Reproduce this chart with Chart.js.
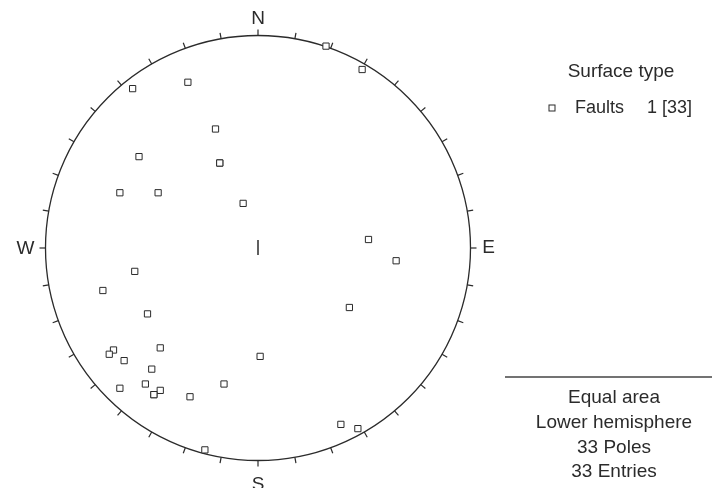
<!DOCTYPE html>
<html>
<head>
<meta charset="utf-8">
<script src="https://cdn.jsdelivr.net/npm/chart.js@4/dist/chart.umd.min.js"></script>
<style>
  html, body { margin: 0; padding: 0; background: #fff; }
  #wrap { width: 712px; height: 488px; }
</style>
</head>
<body>
<div id="wrap"><canvas id="net" width="712" height="488"></canvas></div>
<script>
// Poles to fault planes, equal-area projection (unit = net radius, +x east, +y north)
const poleX = [0.32, 0.49, -0.59, -0.33, -0.20, -0.56, -0.18, -0.65, -0.47, -0.07,
               0.52, 0.65, -0.58, -0.73, -0.52, 0.43, -0.68, -0.70, -0.63, -0.46,
               0.01, -0.50, -0.65, -0.53, -0.49, -0.46, -0.32, -0.16, 0.39, 0.47,
               -0.25, -0.49, -0.18];
const poleY = [0.95, 0.84, 0.75, 0.78, 0.56, 0.43, 0.40, 0.26, 0.26, 0.21,
               0.04, -0.06, -0.11, -0.20, -0.31, -0.28, -0.48, -0.50, -0.53, -0.47,
               -0.51, -0.57, -0.66, -0.64, -0.69, -0.67, -0.70, -0.64, -0.83, -0.85,
               -0.95, -0.69, 0.40];

const compassLabels = ['N', 'E', 'S', 'W'];
const legendTitle = 'Surface type';
const setName = 'Faults';
const setIndex = 1;
const infoLines = ['Equal area', 'Lower hemisphere', poleX.length + ' Poles', poleX.length + ' Entries'];

const INK = '#2b2b2b';
const FONT = '"Liberation Sans", Arial, Helvetica, sans-serif';

const points = poleX.map((x, i) => ({ x: x, y: poleY[i] }));

function drawSquare(ctx, x, y, half) {
  ctx.save();
  ctx.fillStyle = '#fff';
  ctx.strokeStyle = INK;
  ctx.lineWidth = 1;
  ctx.fillRect(x - half, y - half, half * 2, half * 2);
  ctx.strokeRect(x - half, y - half, half * 2, half * 2);
  ctx.restore();
}

const stereonet = {
  id: 'stereonet',
  beforeDatasetsDraw(chart) {
    const ctx = chart.ctx;
    const sx = chart.scales.x, sy = chart.scales.y;
    const cx = sx.getPixelForValue(0), cy = sy.getPixelForValue(0);
    const r = sx.getPixelForValue(1) - cx;
    ctx.save();
    ctx.strokeStyle = INK;
    ctx.lineWidth = 1.3;
    ctx.beginPath();
    ctx.arc(cx, cy, r, 0, Math.PI * 2);
    ctx.stroke();
    // azimuth ticks every 10 degrees
    ctx.lineWidth = 1.2;
    for (let az = 0; az < 360; az += 10) {
      const a = az * Math.PI / 180;
      const dx = Math.sin(a), dy = -Math.cos(a);
      ctx.beginPath();
      ctx.moveTo(cx + dx * r, cy + dy * r);
      ctx.lineTo(cx + dx * (r + 6), cy + dy * (r + 6));
      ctx.stroke();
    }
    // centre mark
    ctx.lineWidth = 1.5;
    ctx.beginPath();
    ctx.moveTo(cx, cy - 8);
    ctx.lineTo(cx, cy + 7);
    ctx.stroke();

    // compass letters
    ctx.fillStyle = INK;
    ctx.font = '19px ' + FONT;
    ctx.textAlign = 'center';
    ctx.textBaseline = 'middle';
    ctx.fillText(compassLabels[0], cx, cy - r - 17);
    ctx.fillText(compassLabels[1], cx + r + 18, cy);
    ctx.fillText(compassLabels[2], cx, cy + r + 24);
    ctx.fillText(compassLabels[3], cx - r - 20, cy + 1);
    ctx.restore();
  },
  afterDraw(chart) {
    const ctx = chart.ctx;
    ctx.save();
    ctx.fillStyle = INK;
    ctx.textBaseline = 'middle';
    // legend
    ctx.font = '19px ' + FONT;
    ctx.textAlign = 'center';
    ctx.fillText(legendTitle, 621, 72);
    ctx.font = '18px ' + FONT;
    drawSquare(ctx, 552, 108, 3);
    ctx.textAlign = 'left';
    ctx.fillText(setName, 575, 108);
    ctx.fillText(setIndex + ' [' + poleX.length + ']', 647, 108);
    // info block
    ctx.strokeStyle = '#444';
    ctx.lineWidth = 1.5;
    ctx.beginPath();
    ctx.moveTo(505, 377);
    ctx.lineTo(712, 377);
    ctx.stroke();
    ctx.font = '19px ' + FONT;
    ctx.textAlign = 'center';
    infoLines.forEach((t, i) => ctx.fillText(t, 614, 398 + i * 24.7));
    ctx.restore();
  }
};

new Chart(document.getElementById('net'), {
  type: 'scatter',
  data: {
    datasets: [{
      label: setName,
      data: points,
      pointStyle: 'rect',
      pointRadius: 4.4,
      pointBackgroundColor: '#fff',
      pointBorderColor: INK,
      pointBorderWidth: 1
    }]
  },
  options: {
    responsive: false,
    animation: false,
    devicePixelRatio: 1,
    layout: { padding: { left: 45.5, right: 241.5, top: 35.5, bottom: 27.5 } },
    scales: {
      x: { type: 'linear', min: -1, max: 1, display: false },
      y: { type: 'linear', min: -1, max: 1, display: false }
    },
    plugins: { legend: { display: false }, tooltip: { enabled: false } }
  },
  plugins: [stereonet]
});
</script>
</body>
</html>
